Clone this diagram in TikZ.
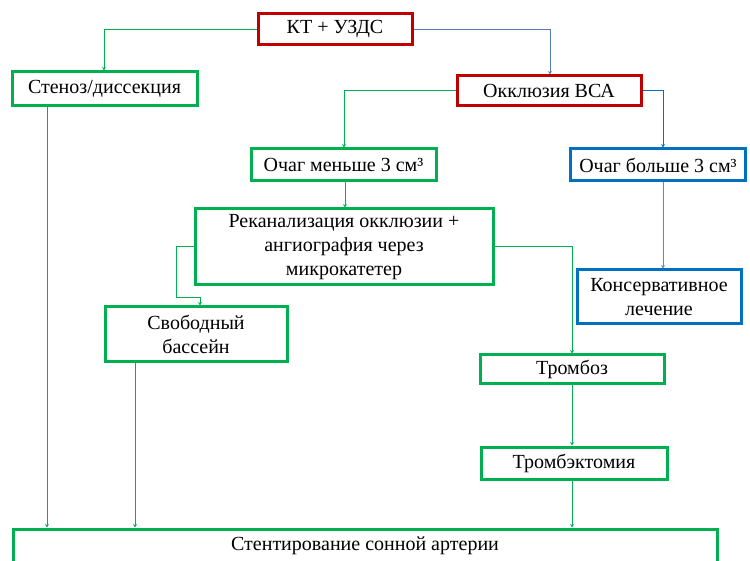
\documentclass[tikz,border=0pt]{standalone}
\usepackage{fontspec}
\setmainfont{Liberation Serif}
\newfontfamily\diagfont{Liberation Serif}
\usetikzlibrary{arrows.meta}
\definecolor{gr}{RGB}{0,176,80}
\definecolor{rd}{RGB}{192,0,0}
\definecolor{bl}{RGB}{0,112,192}
\definecolor{lbl}{RGB}{80,140,210}
\definecolor{mix}{RGB}{90,120,190}
\tikzset{
  box/.style={draw, line width=3pt, inner sep=0pt, align=center, font=\diagfont\fontsize{20pt}{24pt}\selectfont},
  gbox/.style={box, draw=gr},
  rbox/.style={box, draw=rd},
  bbox/.style={box, draw=bl},
  conn/.style={line width=1pt, -{Stealth[length=3.5pt,width=4pt]}},
  gconn/.style={conn, gr},
}
\begin{document}
\begin{tikzpicture}[x=1pt,y=-1pt]
\useasboundingbox (0,0) rectangle (750,561);
\node[rbox, minimum width=154pt, minimum height=31pt] (kt) at (335,29.5) {КТ + УЗДС};
\node[gbox, minimum width=185pt, minimum height=34pt] (sten) at (104.5,89) {Стеноз/диссекция};
\node[rbox, minimum width=184pt, minimum height=30pt] (okkl) at (549,91) {Окклюзия ВСА};
\node[gbox, minimum width=185pt, minimum height=32pt] (less) at (343.5,165) {Очаг меньше 3 см³};
\node[bbox, minimum width=175pt, minimum height=32pt] (more) at (658,165) {Очаг больше 3 см³};
\node[gbox, minimum width=298pt, minimum height=76pt] (rek) at (344,247) {Реканализация окклюзии +\\ангиография через\\микрокатетер};
\node[gbox, minimum width=182pt, minimum height=55pt] (svob) at (196,334.5) {Свободный\\бассейн};
\node[bbox, minimum width=164pt, minimum height=54pt] (kons) at (659,297) {Консервативное\\лечение};
\node[gbox, minimum width=184pt, minimum height=29pt] (tromb) at (572,369.5) {Тромбоз};
\node[gbox, minimum width=186pt, minimum height=32pt] (tre) at (574,463) {Тромбэктомия};
\node[gbox, minimum width=704pt, minimum height=34pt] (stent) at (365,546) {Стентирование сонной артерии};
% connectors
\draw[gconn] (kt.west) -| (sten.north -| 104,0);
\draw[conn, mix] (kt.east) -| (okkl.north -| 550,0);
\draw[gconn] (okkl.west) -| (less.north -| 344,0);
\draw[conn, bl] (okkl.east) -| (more.north -| 663,0);
\draw[gconn] (less.south -| 345,0) -- (rek.north -| 345,0);
\coordinate (r1) at (176,298);
\draw[gconn] (rek.west) -| (r1) -| (svob.north -| 200,0);
\draw[gconn] (rek.east) -| (tromb.north -| 572,0);
\draw[conn, lbl] (more.south -| 663,0) -- (kons.north -| 663,0);
\draw[gconn] (tromb.south -| 572,0) -- (tre.north -| 572,0);
\draw[gconn] (sten.south -| 47,0) -- (stent.north -| 47,0);
\draw[gconn] (svob.south -| 135,0) -- (stent.north -| 135,0);
\draw[gconn] (tre.south -| 572,0) -- (stent.north -| 572,0);
\end{tikzpicture}
\end{document}
